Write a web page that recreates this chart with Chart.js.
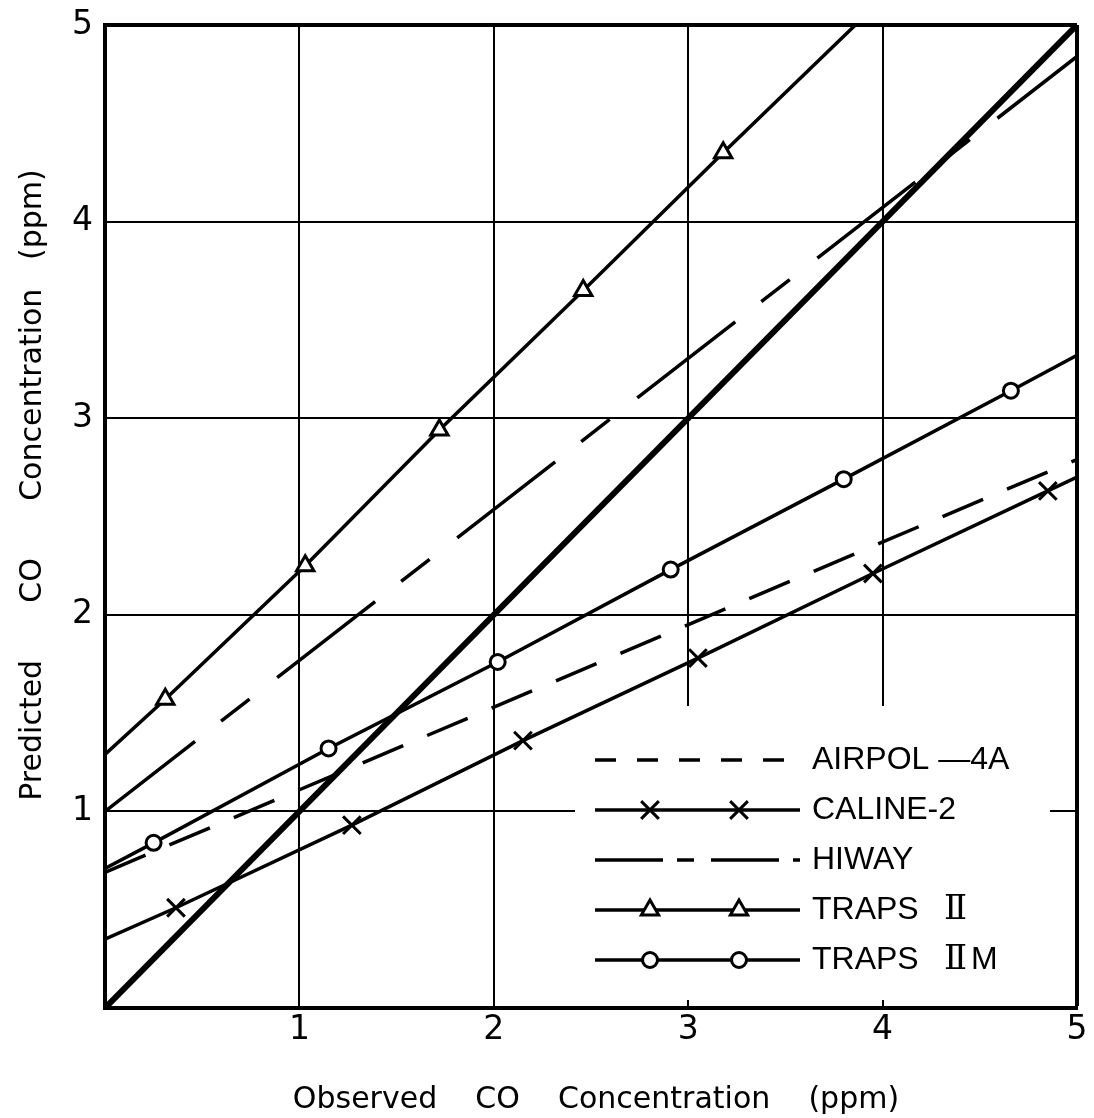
<!DOCTYPE html>
<html>
<head>
<meta charset="utf-8">
<script src="https://cdn.jsdelivr.net/npm/chart.js@4.4.1/dist/chart.umd.min.js"></script>
<style>
  html, body { margin: 0; padding: 0; background: #fff; }
  #wrap { width: 1094px; height: 1118px; }
</style>
</head>
<body>
<div id="wrap"><canvas id="coChart" width="1094" height="1118"></canvas></div>
<script>
// Predicted vs observed CO concentration (ppm) for five dispersion models

const axisMin = 0;
const axisMax = 5;

// perfect-agreement line
const perfectX = [0, 5];
const perfectY = [0, 5];

// AIRPOL-4A fit
const airpolX = [0, 5];
const airpolY = [0.69, 2.79];

// HIWAY fit
const hiwayX = [0, 5];
const hiwayY = [1.0, 4.84];

// CALINE-2: fit end points and plotted markers
const calineEndX = [0, 5];
const calineEndY = [0.35, 2.70];
const calineX = [0.365, 1.27, 2.15, 3.05, 3.95, 4.85];
const calineY = [0.51, 0.93, 1.36, 1.78, 2.21, 2.63];

// TRAPS II
const trapsEndX = [0, 3.86];
const trapsEndY = [1.29, 5.0];
const trapsX = [0.31, 1.03, 1.72, 2.46, 3.18];
const trapsY = [1.57, 2.25, 2.94, 3.65, 4.35];

// TRAPS IIM
const trapsMEndX = [0, 5];
const trapsMEndY = [0.71, 3.32];
const trapsMX = [0.25, 1.15, 2.02, 2.91, 3.80, 4.66];
const trapsMY = [0.84, 1.32, 1.76, 2.23, 2.69, 3.14];

// key text: model name, optional roman numeral part, optional suffix
const legendNames = ['AIRPOL \u20144A', 'CALINE-2', 'HIWAY', 'TRAPS', 'TRAPS'];
const legendNumerals = ['', '', '', '\u2161', '\u2161'];
const legendSuffix = ['', '', '', '', 'M'];
const xTitle = 'Observed    CO    Concentration    (ppm)';
const yTitle = 'Predicted      CO      Concentration   (ppm)';

function pts(xs, ys) {
  return xs.map((x, i) => ({ x: x, y: ys[i] }));
}

// fit line running through its markers, from first end point to last
function fitLine(endX, endY, xs, ys) {
  const p = pts(xs, ys);
  return [{ x: endX[0], y: endY[0] }].concat(p, [{ x: endX[1], y: endY[1] }]);
}

const INK = '#000';

function lineSet(label, data, width, dash, dashOffset) {
  return {
    label: label,
    data: data,
    showLine: true,
    borderColor: INK,
    borderWidth: width,
    borderDash: dash || [],
    borderDashOffset: dashOffset || 0,
    pointRadius: 0,
    fill: false,
    order: 2
  };
}

function markerSet(label, data, style, radius, width) {
  return {
    label: label,
    data: data,
    showLine: false,
    pointStyle: style,
    pointRadius: radius,
    pointBorderColor: INK,
    pointBackgroundColor: '#fff',
    pointBorderWidth: width,
    order: 1
  };
}

// small marker drawer for the key
function drawMarker(ctx, style, x, y, r) {
  ctx.beginPath();
  if (style === 'circle') {
    ctx.arc(x, y, r, 0, Math.PI * 2);
    ctx.fill();
    ctx.stroke();
  } else if (style === 'triangle') {
    for (let k = 0; k < 3; k++) {
      const a = k * 2 * Math.PI / 3;
      const px = x + Math.sin(a) * r;
      const py = y - Math.cos(a) * r;
      if (k === 0) ctx.moveTo(px, py); else ctx.lineTo(px, py);
    }
    ctx.closePath();
    ctx.fill();
    ctx.stroke();
  } else if (style === 'crossRot') {
    const d = r * Math.SQRT1_2;
    ctx.moveTo(x - d, y - d); ctx.lineTo(x + d, y + d);
    ctx.moveTo(x + d, y - d); ctx.lineTo(x - d, y + d);
    ctx.stroke();
  }
}

const keyRows = [
  { dash: [21, 21], marker: null },
  { dash: [], marker: 'crossRot', r: 12.5 },
  { dash: [68, 14, 17, 17], marker: null },
  { dash: [], marker: 'triangle', r: 10 },
  { dash: [], marker: 'circle', r: 7.5 }
];

const keyFont = '32px "Liberation Sans", "DejaVu Sans", sans-serif';
const numeralFont = '34px "DejaVu Serif", "DejaVu Sans", serif';

const keyPlugin = {
  id: 'modelKey',
  beforeDatasetsDraw(chart) {
    const ctx = chart.ctx;
    ctx.save();
    ctx.fillStyle = '#fff';
    ctx.fillRect(575, 706, 475, 294);
    ctx.restore();
  },
  afterDatasetsDraw(chart) {
    const ctx = chart.ctx;
    ctx.save();
    ctx.strokeStyle = INK;
    keyRows.forEach((row, i) => {
      const y = 760 + i * 50;
      ctx.lineWidth = 3.5;
      ctx.setLineDash(row.dash);
      ctx.beginPath();
      ctx.moveTo(595, y);
      ctx.lineTo(800, y);
      ctx.stroke();
      ctx.setLineDash([]);
      if (row.marker) {
        ctx.fillStyle = '#fff';
        ctx.lineWidth = 3;
        drawMarker(ctx, row.marker, 650, y, row.r);
        drawMarker(ctx, row.marker, 739, y, row.r);
      }
      ctx.fillStyle = INK;
      ctx.textBaseline = 'middle';
      ctx.textAlign = 'left';
      ctx.font = keyFont;
      ctx.fillText(legendNames[i], 812, y);
      if (legendNumerals[i]) {
        ctx.font = numeralFont;
        ctx.fillText(legendNumerals[i], 944, y);
        const w = ctx.measureText(legendNumerals[i]).width;
        ctx.font = keyFont;
        ctx.fillText(legendSuffix[i], 944 + w + 4, y);
      }
    });
    ctx.restore();
  }
};

const titleFont = '30px "DejaVu Sans", sans-serif';

const titlePlugin = {
  id: 'axisTitles',
  afterDraw(chart) {
    const ctx = chart.ctx;
    ctx.save();
    ctx.fillStyle = INK;
    ctx.font = titleFont;
    ctx.textAlign = 'center';
    ctx.textBaseline = 'middle';
    ctx.fillText(xTitle, 596, 1100);
    ctx.translate(33, 485);
    ctx.rotate(-Math.PI / 2);
    ctx.fillText(yTitle, 0, 0);
    ctx.restore();
  }
};

const xTickFont = { family: '"DejaVu Sans", sans-serif', size: 33, lineHeight: 1 };
const yTickFont = { family: '"DejaVu Sans", sans-serif', size: 33, lineHeight: 0.7 };

function gridWidth(c) {
  return c.tick && c.tick.value === axisMax ? 4 : 2;
}

new Chart(document.getElementById('coChart'), {
  type: 'scatter',
  data: {
    datasets: [
      markerSet('CALINE-2', pts(calineX, calineY), 'crossRot', 12.5, 3),
      markerSet('TRAPS II', pts(trapsX, trapsY), 'triangle', 10, 3),
      markerSet('TRAPS IIM', pts(trapsMX, trapsMY), 'circle', 7.5, 3),
      lineSet('1:1', pts(perfectX, perfectY), 6),
      lineSet('AIRPOL-4A', pts(airpolX, airpolY), 3.5, [44, 26], 0),
      lineSet('HIWAY', pts(hiwayX, hiwayY), 3.5, [124, 33, 36, 35], 10),
      lineSet('CALINE-2', fitLine(calineEndX, calineEndY, calineX, calineY), 3.5),
      lineSet('TRAPS II', fitLine(trapsEndX, trapsEndY, trapsX, trapsY), 3.5),
      lineSet('TRAPS IIM', fitLine(trapsMEndX, trapsMEndY, trapsMX, trapsMY), 3.5)
    ]
  },
  options: {
    responsive: false,
    animation: false,
    devicePixelRatio: 1,
    layout: { padding: { top: 25, right: 17, left: 0, bottom: 0 } },
    plugins: {
      legend: { display: false },
      tooltip: { enabled: false }
    },
    scales: {
      x: {
        type: 'linear',
        min: axisMin,
        max: axisMax,
        afterFit: s => { s.height = 110; },
        grid: { color: INK, lineWidth: gridWidth, drawTicks: false },
        border: { display: true, color: INK, width: 4 },
        ticks: {
          stepSize: 1,
          autoSkip: false,
          maxRotation: 0,
          padding: 6,
          color: INK,
          font: xTickFont,
          callback: v => (v === 0 ? '' : String(v))
        }
      },
      y: {
        type: 'linear',
        min: axisMin,
        max: axisMax,
        afterFit: s => { s.width = 105; },
        grid: { color: INK, lineWidth: gridWidth, drawTicks: false },
        border: { display: true, color: INK, width: 4 },
        ticks: {
          stepSize: 1,
          autoSkip: false,
          padding: 12,
          color: INK,
          font: yTickFont,
          callback: v => (v === 0 ? '' : String(v))
        }
      }
    }
  },
  plugins: [keyPlugin, titlePlugin]
});
</script>
</body>
</html>
